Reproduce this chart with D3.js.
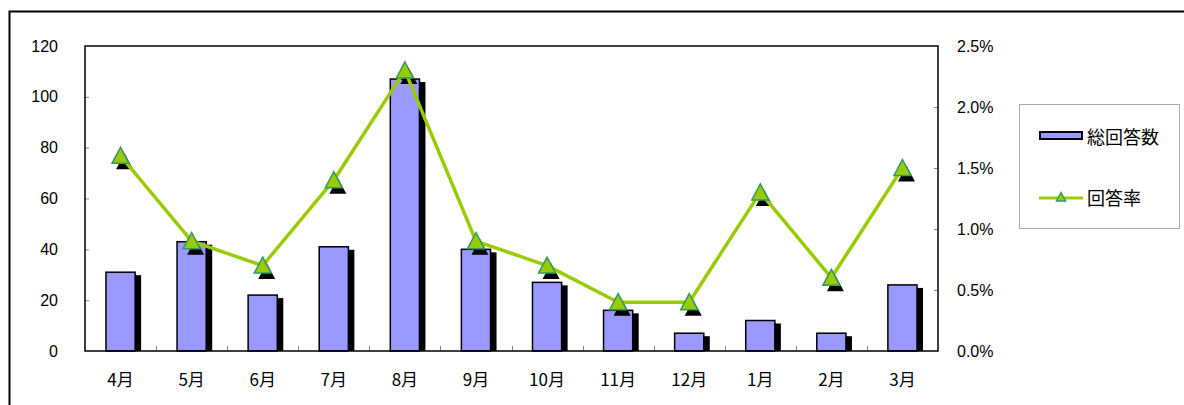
<!DOCTYPE html>
<html>
<head>
<meta charset="utf-8">
<script src="https://cdn.jsdelivr.net/npm/d3@7"></script>
<style>
	body { margin: 0; background: #fff; }
	svg { display: block; }
	text { font-family: "Liberation Sans", "Noto Sans CJK JP", sans-serif; fill: #000; }
</style>
</head>
<body>
<div id="graph"></div>
<script>
let width = 1184;
let height = 405;

// plot area
let plot = { left: 85, top: 46, right: 938, bottom: 351 };

// data
let months = ["4月", "5月", "6月", "7月", "8月", "9月", "10月", "11月", "12月", "1月", "2月", "3月"];
let answers = [31, 43, 22, 41, 107, 40, 27, 16, 7, 12, 7, 26];
let rates = [0.016, 0.009, 0.007, 0.014, 0.023, 0.009, 0.007, 0.004, 0.004, 0.013, 0.006, 0.015];
let leftTicks = [0, 20, 40, 60, 80, 100, 120];
let rightTicks = [0, 0.005, 0.010, 0.015, 0.020, 0.025];
let seriesNames = ["総回答数", "回答率"];

let barColour = "#9999ff";
let lineColour = "#99cc00";
let markerStroke = "#339966";

let svg = d3.select("#graph")
	.append("svg")
		.attr("width", width)
		.attr("height", height)
	;

// outer chart frame (runs past the window on right / bottom)
svg.append("rect")
	.attr("x", 9.5)
	.attr("y", 11.5)
	.attr("width", 1200)
	.attr("height", 420)
	.attr("fill", "none")
	.attr("stroke", "#000")
	.attr("stroke-width", 2)
	;

let xScale = d3.scaleBand()
	.domain(months)
	.range([plot.left, plot.right])
	;
let barWidth = xScale.bandwidth() * 0.41;

let yScale = d3.scaleLinear()
	.domain([0, 120])
	.range([plot.bottom, plot.top])
	;
let yScaleRate = d3.scaleLinear()
	.domain([0, 0.025])
	.range([plot.bottom, plot.top])
	;

// Left axis
let yAxis = d3.axisLeft(yScale)
	.tickValues(leftTicks)
	.tickSize(-4)
	.tickPadding(27)
	;
let gLeft = svg.append("g")
	.attr("transform", `translate(${plot.left},0)`)
	.call(yAxis)
	;

// Right axis
let yAxisRight = d3.axisRight(yScaleRate)
	.tickValues(rightTicks)
	.tickSize(-4)
	.tickPadding(19)
	.tickFormat(d3.format(".1%"))
	;
let gRight = svg.append("g")
	.attr("transform", `translate(${plot.right},0)`)
	.call(yAxisRight)
	;

// Bottom axis: labels at centres
let xAxis = d3.axisBottom(xScale)
	.tickSize(0)
	.tickPadding(26)
	;
let gBottom = svg.append("g")
	.attr("transform", `translate(0,${plot.bottom})`)
	.call(xAxis)
	;

[gLeft, gRight, gBottom].forEach(g => {
	g.select(".domain").remove();
	g.selectAll(".tick line").attr("stroke", "#888").attr("stroke-width", 1);
	g.selectAll("text").style("font-size", "16px").attr("fill", "#000");
	});
gBottom.selectAll("text")
	.style("font-family", "'Noto Sans CJK JP', sans-serif")
	.style("font-size", "17px")
	.attr("dy", "0.55em")
	;
gLeft.selectAll(".tick").filter(d => d === 0 || d === 120).select("line").remove();
gRight.selectAll(".tick").filter(d => d === 0 || d === 0.025).select("line").remove();

// x boundary ticks (between categories)
svg.append("g")
	.selectAll("line")
	.data(months.slice(1))
	.enter()
		.append("line")
			.attr("x1", d => Math.round(xScale(d)) + 0.5)
			.attr("x2", d => Math.round(xScale(d)) + 0.5)
			.attr("y1", plot.bottom - 5)
			.attr("y2", plot.bottom)
			.attr("stroke", "#888")
	;

// bar shadows
svg.append("g")
	.selectAll("rect")
	.data(answers)
	.enter()
		.append("rect")
			.attr("x", (d, i) => xScale(months[i]) + (xScale.bandwidth() - barWidth) / 2 + 6)
			.attr("y", d => yScale(d) + 3)
			.attr("width", barWidth)
			.attr("height", d => plot.bottom - yScale(d) - 3)
			.attr("fill", "#000")
	;

// bars
svg.append("g")
	.selectAll("rect")
	.data(answers)
	.enter()
		.append("rect")
			.attr("x", (d, i) => xScale(months[i]) + (xScale.bandwidth() - barWidth) / 2)
			.attr("y", d => yScale(d))
			.attr("width", barWidth)
			.attr("height", d => plot.bottom - yScale(d))
			.attr("fill", barColour)
			.attr("stroke", "#000")
			.attr("stroke-width", 1.5)
	;

// plot border
svg.append("rect")
	.attr("x", plot.left)
	.attr("y", plot.top)
	.attr("width", plot.right - plot.left)
	.attr("height", plot.bottom - plot.top)
	.attr("fill", "none")
	.attr("stroke", "#000")
	.attr("stroke-width", 1.5)
	;

let triangle = "M0,-8.5L8.5,7.5L-8.5,7.5Z";
let cx = i => xScale(months[i]) + xScale.bandwidth() / 2;

// marker shadows (under the line)
svg.append("g")
	.selectAll("path")
	.data(rates)
	.enter()
		.append("path")
			.attr("d", triangle)
			.attr("transform", (d, i) => `translate(${cx(i) + 4}, ${yScaleRate(d) + 6})`)
			.attr("fill", "#000")
	;

// rate line
let line = d3.line()
	.x((d, i) => cx(i))
	.y(d => yScaleRate(d))
	;
svg.append("path")
	.datum(rates)
	.attr("d", line)
	.attr("fill", "none")
	.attr("stroke", lineColour)
	.attr("stroke-width", 3.5)
	.attr("stroke-linejoin", "round")
	;

// markers
svg.append("g")
	.selectAll("path")
	.data(rates)
	.enter()
		.append("path")
			.attr("d", triangle)
			.attr("transform", (d, i) => `translate(${cx(i)}, ${yScaleRate(d)})`)
			.attr("fill", lineColour)
			.attr("stroke", markerStroke)
			.attr("stroke-width", 1.5)
	;

// Legend
let legend = svg.append("g");
legend.append("rect")
	.attr("x", 1019.5)
	.attr("y", 104.5)
	.attr("width", 160)
	.attr("height", 124)
	.attr("fill", "#fff")
	.attr("stroke", "#aaa")
	;
legend.append("rect")
	.attr("x", 1040)
	.attr("y", 132)
	.attr("width", 42)
	.attr("height", 7)
	.attr("fill", barColour)
	.attr("stroke", "#000")
	.attr("stroke-width", 2)
	;
legend.append("line")
	.attr("x1", 1039)
	.attr("x2", 1083)
	.attr("y1", 198)
	.attr("y2", 198)
	.attr("stroke", lineColour)
	.attr("stroke-width", 3)
	;
legend.append("path")
	.attr("d", "M0,-4.5L4.5,4L-4.5,4Z")
	.attr("transform", "translate(1061,197)")
	.attr("fill", lineColour)
	.attr("stroke", markerStroke)
	.attr("stroke-width", 1.5)
	;
legend.selectAll("text")
	.data(seriesNames)
	.enter()
		.append("text")
			.attr("x", 1087)
			.attr("y", (d, i) => i === 0 ? 138 : 199)
			.attr("dy", "0.35em")
			.style("font-family", "'Noto Sans CJK JP', sans-serif")
			.style("font-size", "18px")
			.text(d => d)
	;
</script>
</body>
</html>
